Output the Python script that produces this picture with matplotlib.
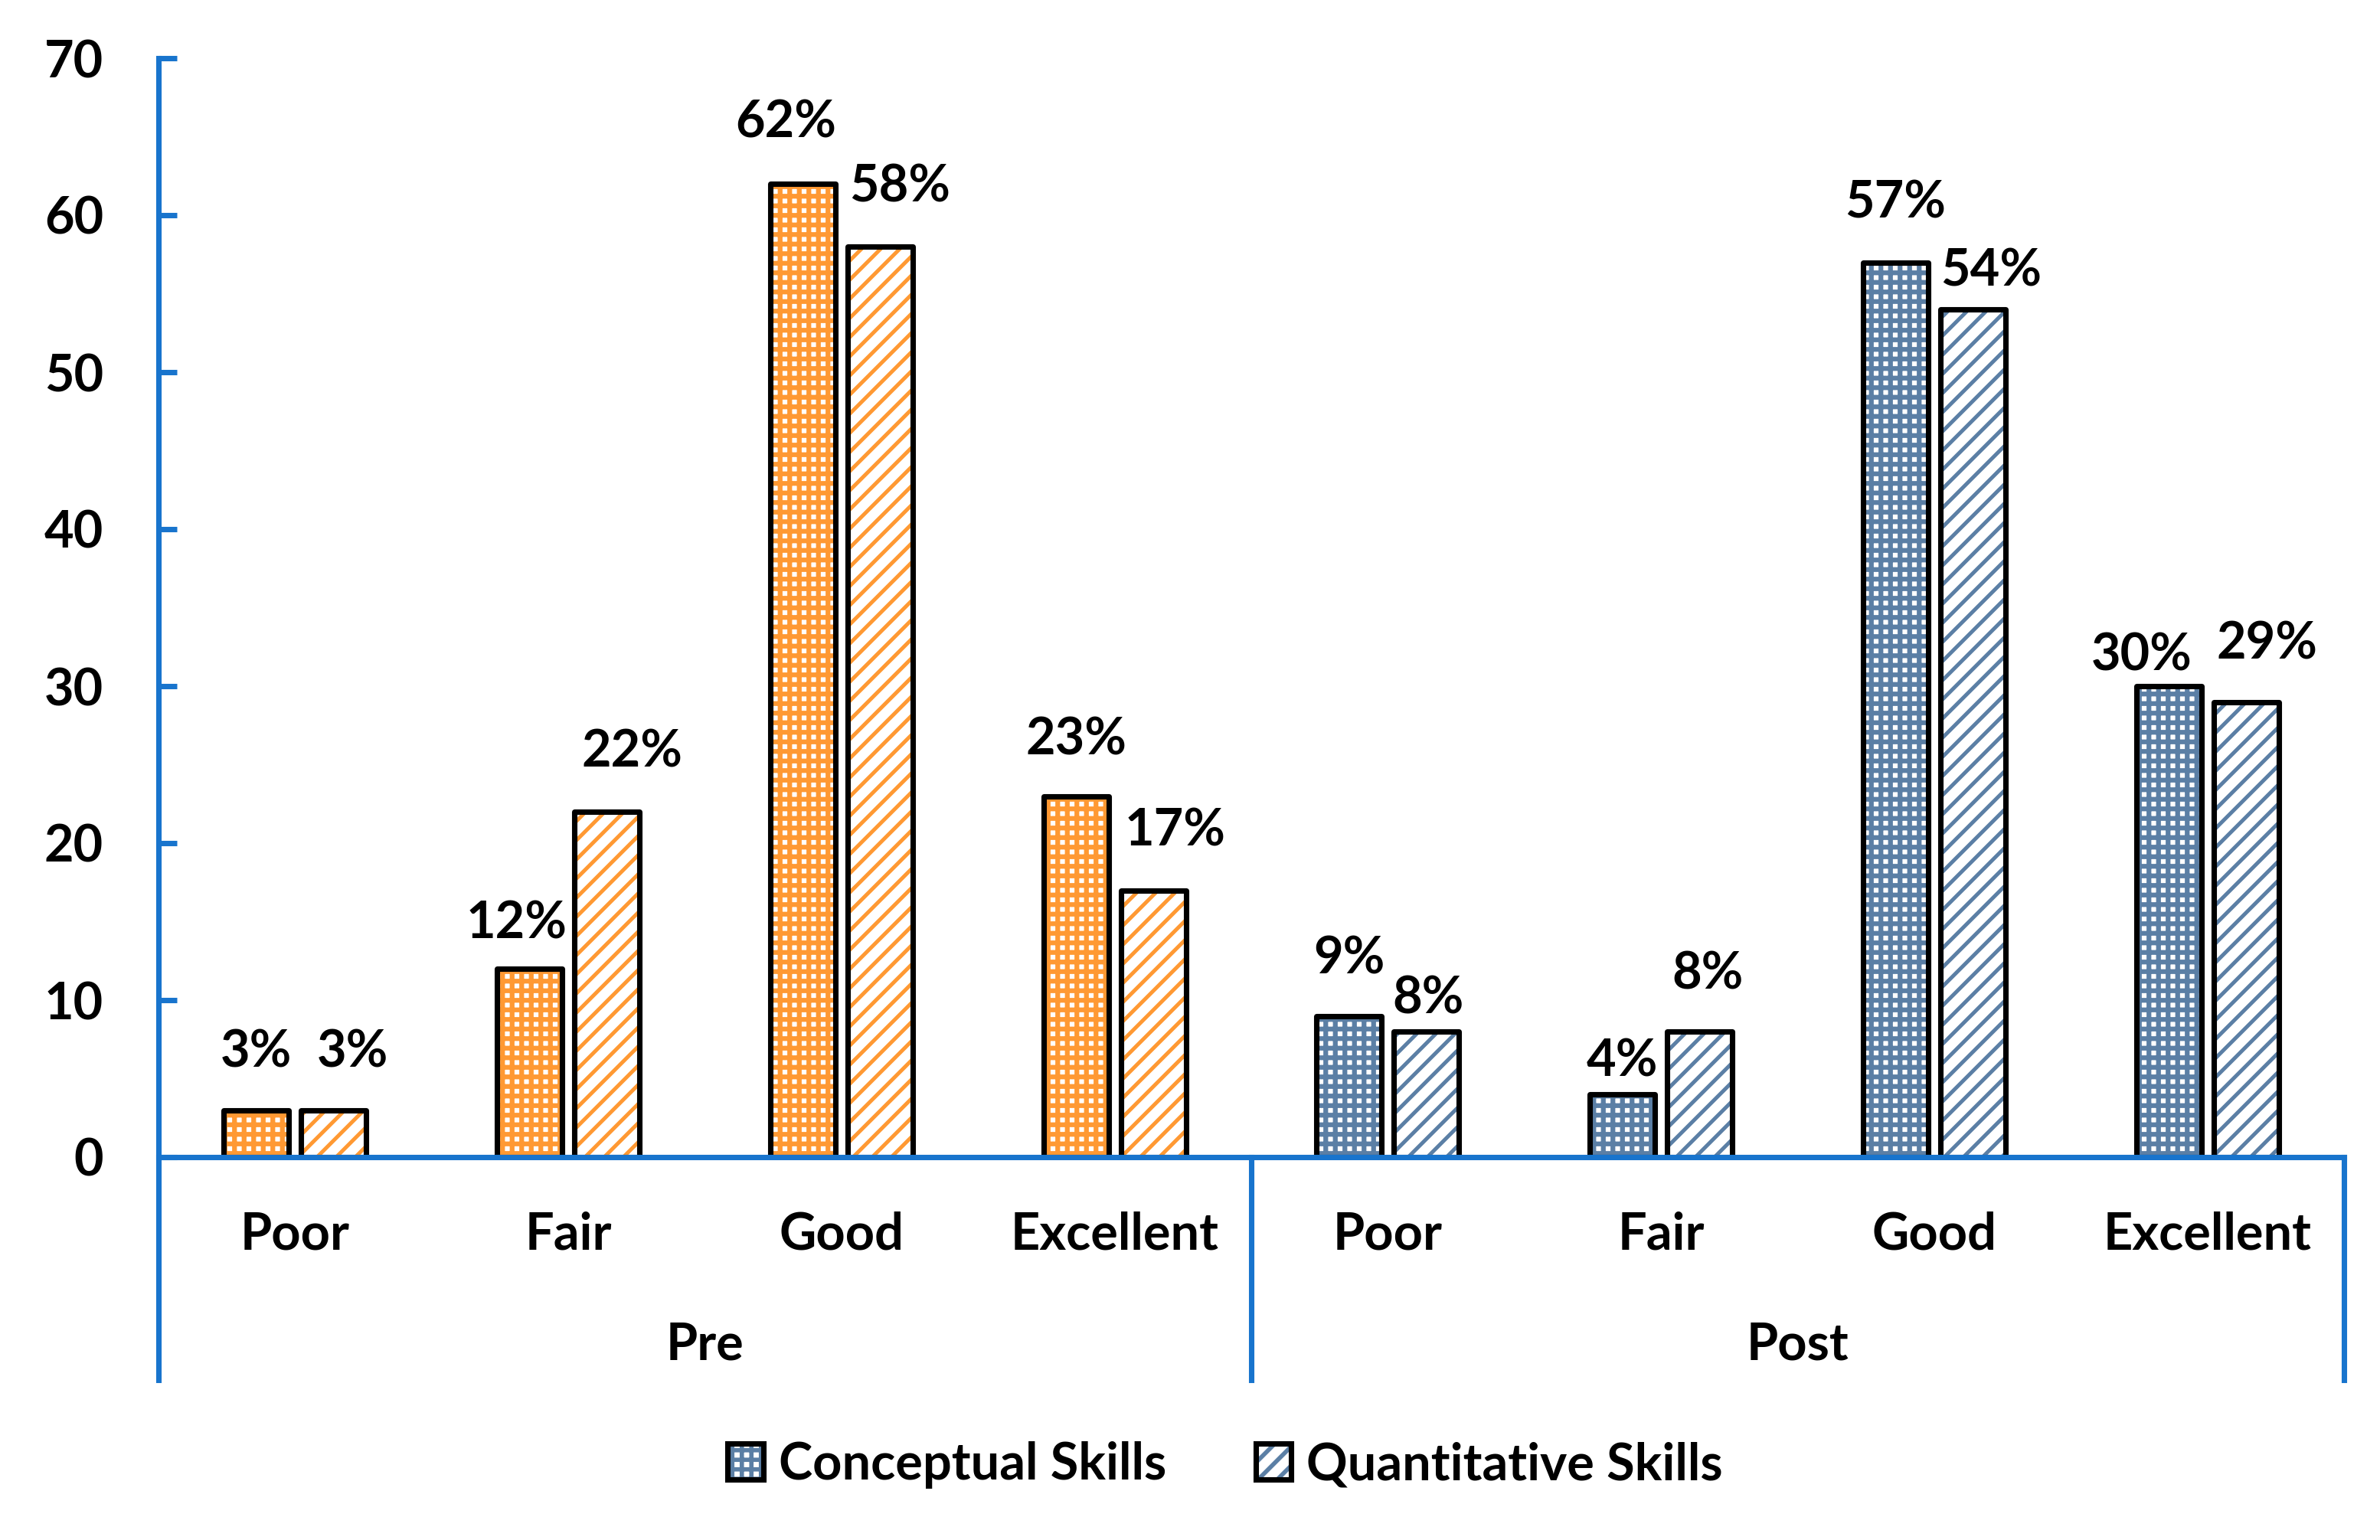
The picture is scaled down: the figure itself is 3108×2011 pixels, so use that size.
import matplotlib
matplotlib.use("Agg")
import matplotlib.pyplot as plt
from matplotlib.patches import Patch
from matplotlib.legend_handler import HandlerTuple


# =========================
# 1. 数据
# =========================

groups = ["Pre", "Post"]
levels = ["Poor", "Fair", "Good", "Excellent"]

pre_conceptual = [3, 12, 62, 23]
pre_quantitative = [3, 22, 58, 17]
post_conceptual = [9, 4, 57, 30]
post_quantitative = [8, 8, 54, 29]

series_names = ["Conceptual Skills", "Quantitative Skills"]

# 标签微调（像素），Excel 里手动拖过的位置
label_dx_conc = [0, -17, -22, 0, 0, 0, 0, -35]
label_dy_conc = [80, 64, 84, 78, 79, 48, 82, 45]
label_dx_quan = [25, 33, 26, 28, 2, 10, 24, 27]
label_dy_quan = [80, 82, 82, 82, 48, 80, 54, 80]


# =========================
# 2. 样式
# =========================

DPI = 300
W_PX, H_PX = 3108, 2011
PX = 72 / DPI  # 1 像素对应的磅数

ORANGE = "#FF9933"
STEEL = "#5B7FA5"
AXIS_BLUE = "#1874CD"

FONT_SIZE = 16
BAR_W = 85 / 356.75
BAR_OFF = 50.5 / 356.75
OUTLINE_W = 1.7

DOT_HATCH, DOT_LW = "++++", 1.5
DIAG_HATCH, DIAG_LW = "////", 1.2

plt.rcParams["font.family"] = ["Lato", "DejaVu Sans"]
plt.rcParams["font.weight"] = "bold"
plt.rcParams["hatch.linewidth"] = 1.35


def hatched_bars(ax, x, values, color, hatch, hatch_lw):
    with plt.rc_context({"hatch.linewidth": hatch_lw}):
        bars = ax.bar(x, values, width=BAR_W, facecolor="white",
                      edgecolor=color, linewidth=0, hatch=hatch, zorder=2)
    for b in bars:
        if hasattr(b, "set_hatch_linewidth"):
            b.set_hatch_linewidth(hatch_lw)
    ax.bar(x, values, width=BAR_W, fill=False, edgecolor="black",
           linewidth=OUTLINE_W, joinstyle="round", zorder=3)


def legend_handle(color, hatch, hatch_lw):
    with plt.rc_context({"hatch.linewidth": hatch_lw}):
        inner = Patch(facecolor="white", edgecolor=color, linewidth=0, hatch=hatch)
    if hasattr(inner, "set_hatch_linewidth"):
        inner.set_hatch_linewidth(hatch_lw)
    outer = Patch(facecolor="none", edgecolor="black", linewidth=OUTLINE_W)
    return (inner, outer)


def main():
    fig = plt.figure(figsize=(W_PX / DPI, H_PX / DPI), dpi=DPI)
    ax = fig.add_axes([207 / W_PX, 1 - 1511 / H_PX,
                       (3061 - 207) / W_PX, (1511 - 76) / H_PX])

    conc = pre_conceptual + post_conceptual
    quan = pre_quantitative + post_quantitative
    n = len(conc)
    xs = list(range(n))
    x_conc = [x - BAR_OFF for x in xs]
    x_quan = [x + BAR_OFF for x in xs]
    colors = [ORANGE] * len(levels) + [STEEL] * len(levels)

    for i in xs:
        hatched_bars(ax, [x_conc[i]], [conc[i]], colors[i], DOT_HATCH, DOT_LW)
        hatched_bars(ax, [x_quan[i]], [quan[i]], colors[i], DIAG_HATCH, DIAG_LW)

    # 数据标签
    for i in xs:
        ax.annotate(f"{conc[i]}%", xy=(x_conc[i], conc[i]),
                    xytext=(label_dx_conc[i] * PX, (label_dy_conc[i] - 24) * PX),
                    textcoords="offset points", ha="center", va="baseline",
                    fontsize=FONT_SIZE, fontweight="bold")
        ax.annotate(f"{quan[i]}%", xy=(x_quan[i], quan[i]),
                    xytext=(label_dx_quan[i] * PX, (label_dy_quan[i] - 24) * PX),
                    textcoords="offset points", ha="center", va="baseline",
                    fontsize=FONT_SIZE, fontweight="bold")

    ax.set_xlim(-0.5, n - 0.5)
    ax.set_ylim(0, 70)
    ax.set_yticks(range(0, 71, 10))
    ax.set_xticks([])
    ax.tick_params(axis="y", direction="in", length=5.7, width=OUTLINE_W,
                   color=AXIS_BLUE, labelcolor="black", pad=17.3,
                   labelsize=FONT_SIZE)
    for lab in ax.get_yticklabels():
        lab.set_fontweight("bold")
    for s in ax.spines.values():
        s.set_visible(False)

    # 坐标轴与分组分隔线
    sep_bottom = -(1802 - 1511) / (1511 - 76)
    line_kw = dict(color=AXIS_BLUE, linewidth=OUTLINE_W, transform=ax.transAxes,
                   clip_on=False, zorder=6, solid_capstyle="projecting")
    ax.plot([0, 0], [sep_bottom, 1.0], **line_kw)
    ax.plot([0, 1], [0, 0], **line_kw)
    ax.plot([0.5, 0.5], [sep_bottom, 0], **line_kw)
    ax.plot([1, 1], [sep_bottom, 0], **line_kw)

    # 分类标签
    trans = ax.get_xaxis_transform()
    cat_y = -(1632 - 1511) / (1511 - 76)
    grp_y = -(1775 - 1511) / (1511 - 76)
    for g_i, g in enumerate(groups):
        for l_i, lv in enumerate(levels):
            ax.text(g_i * len(levels) + l_i, cat_y, lv, transform=trans,
                    ha="center", va="baseline", fontsize=FONT_SIZE,
                    fontweight="bold")
        ax.text(g_i * len(levels) + (len(levels) - 1) / 2, grp_y, g,
                transform=trans, ha="center", va="baseline",
                fontsize=FONT_SIZE, fontweight="bold")

    # 图例
    handles = [legend_handle(STEEL, DOT_HATCH, DOT_LW),
               legend_handle(STEEL, DIAG_HATCH, DIAG_LW)]
    fig.legend(handles, series_names, loc="center",
               bbox_to_anchor=(1600 / W_PX, 1 - 1913 / H_PX),
               ncol=2, frameon=False, borderpad=0,
               handler_map={tuple: HandlerTuple(ndivide=1)},
               handlelength=0.7, handleheight=0.7, handletextpad=0.3,
               columnspacing=1.75,
               prop={"size": FONT_SIZE, "weight": "bold"})

    fig.savefig("out.png", dpi=DPI, facecolor="white")
    plt.close(fig)


if __name__ == "__main__":
    main()
